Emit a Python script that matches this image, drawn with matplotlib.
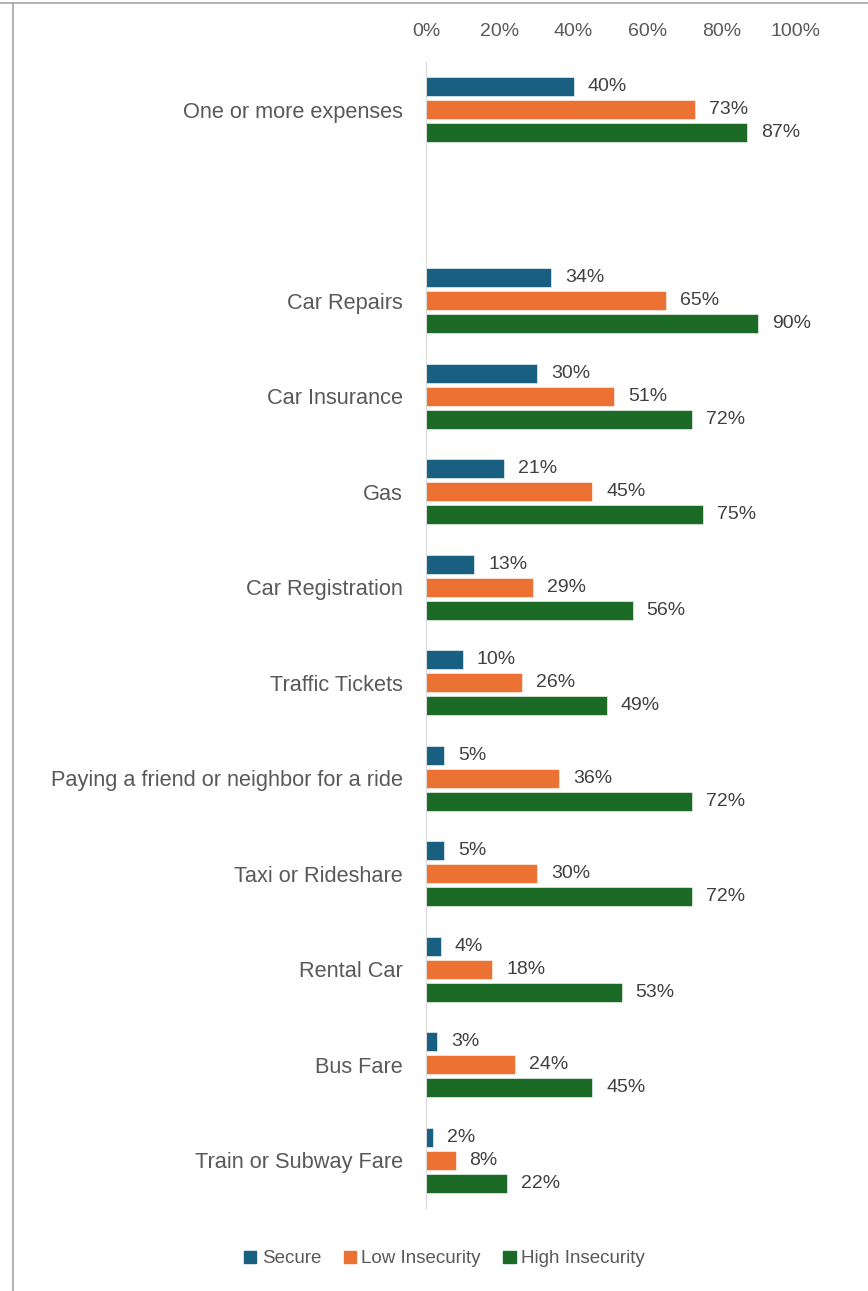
import matplotlib.pyplot as plt
from matplotlib.lines import Line2D
import numpy as np

categories = ["One or more expenses", "", "Car Repairs", "Car Insurance", "Gas",
              "Car Registration", "Traffic Tickets",
              "Paying a friend or neighbor for a ride", "Taxi or Rideshare",
              "Rental Car", "Bus Fare", "Train or Subway Fare"]
secure = [40, None, 34, 30, 21, 13, 10, 5, 5, 4, 3, 2]
low = [73, None, 65, 51, 45, 29, 26, 36, 30, 18, 24, 8]
high = [87, None, 90, 72, 75, 56, 49, 72, 72, 53, 45, 22]
series = ["Secure", "Low Insecurity", "High Insecurity"]
colors = ["#185F82", "#EB7233", "#1B6B27"]
xticks = [0, 20, 40, 60, 80, 100]

plt.rcParams['font.family'] = ['Liberation Sans', 'DejaVu Sans']
txt = "#595959"

fig = plt.figure(figsize=(8.68, 12.91), dpi=100)
ax = fig.add_axes([0.4908, 0.0643, 0.4251, 0.8877])

y = np.arange(len(categories))
h = 0.2
off = 0.24
for i, (vals, c, name) in enumerate(zip([secure, low, high], colors, series)):
    yy = [p + (i - 1) * off for p, v in zip(y, vals) if v is not None]
    vv = [v for v in vals if v is not None]
    ax.barh(yy, vv, height=h, color=c, edgecolor="white", linewidth=0.4, label=name)
    for py, v in zip(yy, vv):
        ax.text(v + 3.8, py, f"{v}%", va="center", ha="left", fontsize=14, color="#404040")

ax.set_ylim(len(categories) - 0.5, -0.5)
ax.set_xlim(0, 100)
ax.set_yticks(y)
ax.set_yticklabels(categories, fontsize=15.7, color=txt)
ax.set_xticks(xticks)
ax.set_xticklabels([f"{t}%" for t in xticks], fontsize=14, color=txt)
ax.xaxis.tick_top()
ax.tick_params(axis="both", length=0)
ax.tick_params(axis="y", pad=16.5)
ax.tick_params(axis="x", pad=15.5)
for s in ["top", "right", "bottom"]:
    ax.spines[s].set_visible(False)
ax.spines["left"].set_color("#D9D9D9")

handles = [plt.Rectangle((0, 0), 1, 1, color=c) for c in colors]
fig.legend(handles, series, loc="center", bbox_to_anchor=(0.512, 0.0248), ncol=3,
           frameon=False, fontsize=13.5, labelcolor=txt, handlelength=0.65,
           handleheight=0.65, handletextpad=0.3, columnspacing=1.2)

fig.add_artist(Line2D([0, 1], [1 - 3 / 1291] * 2, color="#A6A6A6", lw=1.2))
fig.add_artist(Line2D([13 / 868] * 2, [0, 1 - 3 / 1291], color="#A6A6A6", lw=1.2))

fig.savefig("out.png", dpi=100)
